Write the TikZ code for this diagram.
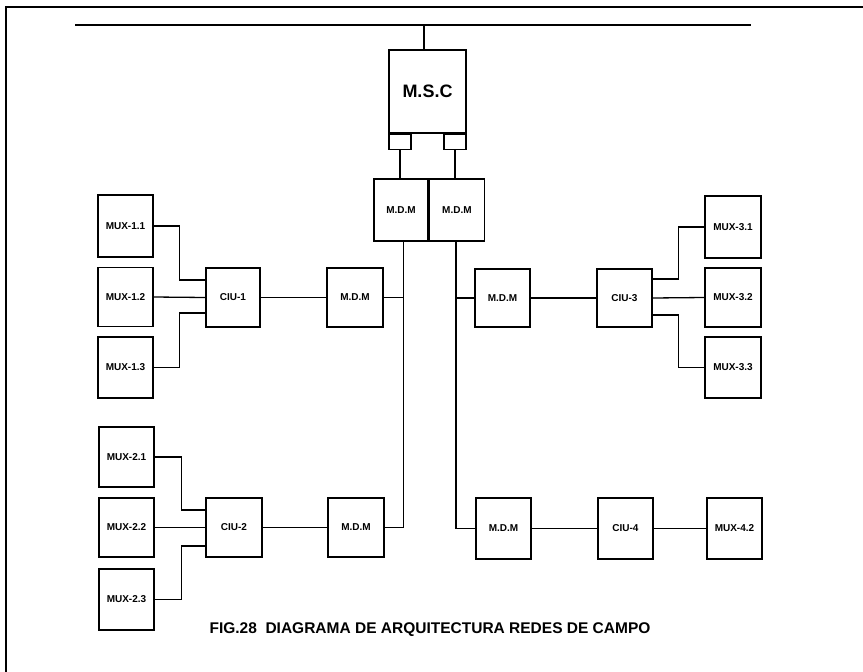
\documentclass[tikz,border=0pt]{standalone}
\usepackage{fontspec}
\setmainfont{Liberation Sans}
\begin{document}
\begin{tikzpicture}[x=1pt,y=-1pt,
  box/.style={draw, line width=1.4pt, inner sep=0pt, font=\fontsize{10}{11}\selectfont\bfseries, text=black},
  mux/.style={box, minimum width=55pt, minimum height=60pt},
  wire/.style={line width=1.3pt},
  frame/.style={line width=1.4pt}]
\useasboundingbox (0,0) rectangle (863,672);
% frame
\coordinate (ftl) at (6,7);
\coordinate (ftr) at (863,7);
\coordinate (fbl) at (6,672);
\draw[frame] (ftr) -- (ftl) -- (fbl);
% bus
\coordinate (busL) at (75,25);
\coordinate (busR) at (751,25);
\draw[line width=1.7pt] (busL) -- (busR);
% MSC
\node[box, minimum width=77pt, minimum height=83pt, font=\fontsize{18}{20}\selectfont\bfseries] (msc) at (427.5,91.5) {M.S.C};
\node[box, minimum width=22pt, minimum height=15pt, anchor=north west] (pl) at (msc.south west) {};
\node[box, minimum width=22pt, minimum height=15pt, anchor=north east] (pr) at (msc.south east) {};
\coordinate (busj) at (424,25);
\draw[wire] (busj) -- (busj |- msc.north);
% MDM pair
\node[box, minimum width=54pt, minimum height=62pt] (mdmA) at (401,210) {M.D.M};
\node[box, minimum width=55pt, minimum height=62pt, anchor=west] (mdmB) at (mdmA.east) {M.D.M};
\draw[wire] (pl.south) -- (pl.south |- mdmA.north);
\draw[wire] (pr.south) -- (pr.south |- mdmB.north);
% trunks
\coordinate (tl) at (403.5,241);
\coordinate (tr) at (456,241);
% left row 1
\node[mux, minimum height=62pt] (mux11) at (125.5,226) {MUX-1.1};
\node[mux, minimum height=59pt] (mux12) at (125.5,297) {MUX-1.2};
\node[mux, minimum height=61pt] (mux13) at (125.5,367.5) {MUX-1.3};
\node[mux, minimum width=54pt, minimum height=59pt] (ciu1) at (233,297.5) {CIU-1};
\node[mux, minimum width=56pt, minimum height=59pt] (mdm1) at (355,297.5) {M.D.M};
\draw[wire] (mux11.east) -- ++(26,0) |- ([yshift=17.5pt]ciu1.west);
\draw[wire] (mux12.east) -- (ciu1.west);
\draw[wire] (mux13.east) -- ++(26,0) |- ([yshift=-15.5pt]ciu1.west);
\draw[wire] (ciu1.east) -- (mdm1.west);
% left row 2
\node[mux] (mux21) at (126.5,457) {MUX-2.1};
\node[mux, minimum height=59pt] (mux22) at (126.5,527.5) {MUX-2.2};
\node[mux, minimum height=61pt] (mux23) at (126.5,599.5) {MUX-2.3};
\node[mux, minimum width=56pt, minimum height=59pt] (ciu2) at (234,527.5) {CIU-2};
\node[mux, minimum width=56pt, minimum height=59pt] (mdm2) at (356,527.5) {M.D.M};
\draw[wire] (mux21.east) -- ++(27,0) |- ([yshift=17.5pt]ciu2.west);
\draw[wire] (mux22.east) -- (ciu2.west);
\draw[wire] (mux23.east) -- ++(27,0) |- ([yshift=-18.5pt]ciu2.west);
\draw[wire] (ciu2.east) -- (mdm2.west);
% left trunk
\draw[wire] (tl) -- (tl |- mdm2.east) -- (mdm2.east);
\draw[wire] (mdm1.east) -- (mdm1.east -| tl);
% right row 1
\node[mux, minimum height=58pt] (mdm3) at (502.5,298) {M.D.M};
\node[mux, minimum height=58pt] (ciu3) at (624.5,298) {CIU-3};
\node[mux, minimum width=56pt, minimum height=62pt] (mux31) at (733,227) {MUX-3.1};
\node[mux, minimum width=56pt, minimum height=59pt] (mux32) at (733,297.5) {MUX-3.2};
\node[mux, minimum width=56pt, minimum height=61pt] (mux33) at (733,367.5) {MUX-3.3};
\draw[wire] (mux31.west) -- ++(-26,0) |- ([yshift=19pt]ciu3.east);
\draw[wire] (ciu3.east) -- (mux32.west);
\draw[wire] (mux33.west) -- ++(-26,0) |- ([yshift=-17pt]ciu3.east);
\draw[wire] (mdm3.east) -- (ciu3.west);
% right row 2
\node[mux, minimum height=61pt] (mdm4) at (503.5,528.5) {M.D.M};
\node[mux, minimum height=61pt] (ciu4) at (625.5,528.5) {CIU-4};
\node[mux, minimum height=61pt] (mux42) at (734.5,528.5) {MUX-4.2};
\draw[wire] (mdm4.east) -- (ciu4.west);
\draw[wire] (ciu4.east) -- (mux42.west);
% right trunk
\draw[wire] (tr) -- (tr |- mdm4.west) -- (mdm4.west);
\draw[wire] (mdm3.west) -- (mdm3.west -| tr);
% caption
\node[font=\fontsize{15.5}{17}\selectfont\bfseries, inner sep=0pt] (cap) at (430,630) {FIG.28\ \ DIAGRAMA DE ARQUITECTURA REDES DE CAMPO};
\end{tikzpicture}
\end{document}
